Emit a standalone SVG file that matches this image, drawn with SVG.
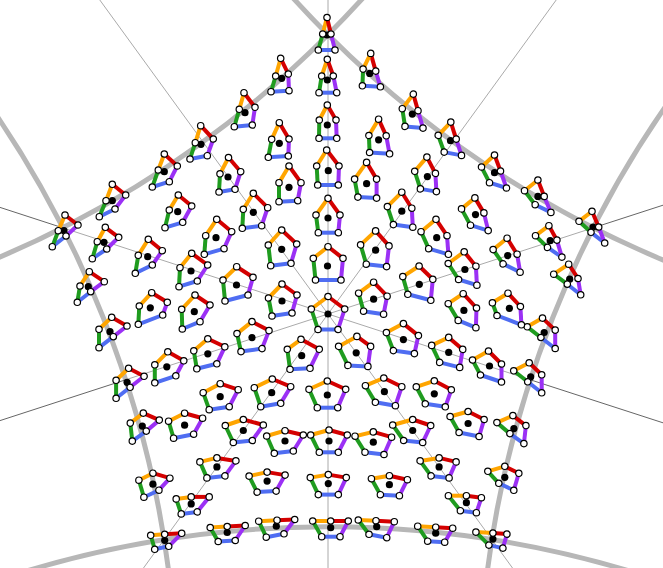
<svg xmlns="http://www.w3.org/2000/svg" width="663" height="568" viewBox="0 0 663 568">
<style>
path{fill:none;stroke-width:4}
.o{stroke:#ffa500}.r{stroke:#d40000}.p{stroke:#9b30f5}.b{stroke:#4f6df2}.g{stroke:#1f9c1f}
.v{fill:#fff;stroke:#000;stroke-width:1.2;r:3.2px}
.k{fill:#000;r:3.6px}
.thick{fill:none;stroke:#b7b7b7;stroke-width:5}
.thin{stroke:#aaa;stroke-width:1;fill:none}
.dark{stroke:#666;stroke-width:1;fill:none}
</style>
<rect width="663" height="568" fill="#fff"/>
<g id="guides">
<circle class="thick" cx="-413.5" cy="-706.2" r="1048.2"/>
<circle class="thick" cx="1069.5" cy="-706.2" r="1048.2"/>
<circle class="thick" cx="1527.3" cy="703.6" r="1048.2"/>
<circle class="thick" cx="-871.3" cy="703.6" r="1048.2"/>
<circle class="thick" cx="328" cy="1575" r="1048.2"/>
<path class="thin" d="M328 0V568M328 314L99.8 0M328 314L556.2 0M328 314L143.5 568M328 314L512.5 568M62.7 227.8L328 314L593.3 227.8M125.6 379.8L328 314L530.4 379.8"/>
<path class="dark" d="M0 207.4L62.7 227.8M663 205.2L593.3 227.8M0 420.6L125.6 379.8M663 422.8L530.4 379.8"/>
</g>
<g id="c0" transform="translate(328 314)"><path class="o" d="M0 -17.5L-16.7 -5"/><path class="r" d="M0 -17.5L16.7 -5"/><path class="p" d="M16.7 -5L10 15.5"/><path class="b" d="M10 15.5L-10 15.5"/><path class="g" d="M-10 15.5L-16.7 -5"/><circle class="k"/><circle class="v" cx="0" cy="-17.5"/><circle class="v" cx="-16.7" cy="-5"/><circle class="v" cx="16.7" cy="-5"/><circle class="v" cx="-10" cy="15.5"/><circle class="v" cx="10" cy="15.5"/></g>
<g id="s0u1" transform="translate(327.5 266)"><path class="o" d="M0.5 -19.3L-14.2 -7.7"/><path class="r" d="M0.5 -19.3L15.5 -7.7"/><path class="p" d="M15.5 -7.7L13.5 14"/><path class="b" d="M13.5 14L-12 14"/><path class="g" d="M-12 14L-14.2 -7.7"/><circle class="k"/><circle class="v" cx="0.5" cy="-19.3"/><circle class="v" cx="-14.2" cy="-7.7"/><circle class="v" cx="15.5" cy="-7.7"/><circle class="v" cx="-12" cy="14"/><circle class="v" cx="13.5" cy="14"/></g>
<g id="s0u2" transform="translate(328 218)"><path class="o" d="M0 -19.7L-12 -3"/><path class="r" d="M0 -19.7L12 -3"/><path class="p" d="M12 -3L10.3 14.7"/><path class="b" d="M10.3 14.7L-9.7 14.7"/><path class="g" d="M-9.7 14.7L-12 -3"/><circle class="k"/><circle class="v" cx="0" cy="-19.7"/><circle class="v" cx="-12" cy="-3"/><circle class="v" cx="12" cy="-3"/><circle class="v" cx="-9.7" cy="14.7"/><circle class="v" cx="10.3" cy="14.7"/></g>
<g id="s0u3" transform="translate(328.3 170.7)"><path class="o" d="M-1.6 -20.7L-11.6 -4.7"/><path class="r" d="M-1.6 -20.7L10.7 -4.7"/><path class="p" d="M10.7 -4.7L10 14.3"/><path class="b" d="M10 14.3L-10.6 14.3"/><path class="g" d="M-10.6 14.3L-11.6 -4.7"/><circle class="k"/><circle class="v" cx="-1.6" cy="-20.7"/><circle class="v" cx="-11.6" cy="-4.7"/><circle class="v" cx="10.7" cy="-4.7"/><circle class="v" cx="-10.6" cy="14.3"/><circle class="v" cx="10" cy="14.3"/></g>
<g id="s0u4" transform="translate(327.3 125)"><path class="o" d="M0 -20L-8 -5"/><path class="r" d="M0 -20L8.7 -5"/><path class="p" d="M8.7 -5L9.4 13.3"/><path class="b" d="M9.4 13.3L-8.3 13.3"/><path class="g" d="M-8.3 13.3L-8 -5"/><circle class="k"/><circle class="v" cx="0" cy="-20"/><circle class="v" cx="-8" cy="-5"/><circle class="v" cx="8.7" cy="-5"/><circle class="v" cx="-8.3" cy="13.3"/><circle class="v" cx="9.4" cy="13.3"/></g>
<g id="s0u5" transform="translate(327.3 80)"><path class="o" d="M0 -20.7L-5.6 -4"/><path class="r" d="M0 -20.7L6 -4"/><path class="p" d="M6 -4L9.4 12.7"/><path class="b" d="M9.4 12.7L-8.3 12.7"/><path class="g" d="M-8.3 12.7L-5.6 -4"/><circle class="k"/><circle class="v" cx="0" cy="-20.7"/><circle class="v" cx="-5.6" cy="-4"/><circle class="v" cx="6" cy="-4"/><circle class="v" cx="-8.3" cy="12.7"/><circle class="v" cx="9.4" cy="12.7"/></g>
<g id="s0u6" transform="translate(327 35)"><path class="o" d="M0 -17.5L-4.3 -1"/><path class="r" d="M0 -17.5L4 -1"/><path class="p" d="M4 -1L8 15"/><path class="b" d="M8 15L-8.7 15"/><path class="g" d="M-8.7 15L-4.3 -1"/><circle class="k"/><circle class="v" cx="0" cy="-17.5"/><circle class="v" cx="-4.3" cy="-1"/><circle class="v" cx="4" cy="-1"/><circle class="v" cx="-8.7" cy="15"/><circle class="v" cx="8" cy="15"/></g>
<g id="s0e1" transform="translate(281.7 78.3)"><path class="o" d="M-1 -20L-6 -2.3"/><path class="r" d="M-1 -20L6.6 -4.3"/><path class="p" d="M6.6 -4.3L7.3 12.4"/><path class="b" d="M7.3 12.4L-10.7 13.4"/><path class="g" d="M-10.7 13.4L-6 -2.3"/><circle class="k"/><circle class="v" cx="-1" cy="-20"/><circle class="v" cx="-6" cy="-2.3"/><circle class="v" cx="6.6" cy="-4.3"/><circle class="v" cx="-10.7" cy="13.4"/><circle class="v" cx="7.3" cy="12.4"/></g>
<g id="s0e2" transform="translate(245 112.7)"><path class="o" d="M-1 -20L-5.7 -3.4"/><path class="r" d="M-1 -20L10 -5.4"/><path class="p" d="M10 -5.4L7.3 12.3"/><path class="b" d="M7.3 12.3L-10.7 14"/><path class="g" d="M-10.7 14L-5.7 -3.4"/><circle class="k"/><circle class="v" cx="-1" cy="-20"/><circle class="v" cx="-5.7" cy="-3.4"/><circle class="v" cx="10" cy="-5.4"/><circle class="v" cx="-10.7" cy="14"/><circle class="v" cx="7.3" cy="12.3"/></g>
<g id="s0e3" transform="translate(201 144.3)"><path class="o" d="M-0.3 -18.6L-5.7 -1.6"/><path class="r" d="M-0.3 -18.6L12.3 -5.3"/><path class="p" d="M12.3 -5.3L6.3 11.4"/><path class="b" d="M6.3 11.4L-11 14.7"/><path class="g" d="M-11 14.7L-5.7 -1.6"/><circle class="k"/><circle class="v" cx="-0.3" cy="-18.6"/><circle class="v" cx="-5.7" cy="-1.6"/><circle class="v" cx="12.3" cy="-5.3"/><circle class="v" cx="-11" cy="14.7"/><circle class="v" cx="6.3" cy="11.4"/></g>
<g id="s0e4" transform="translate(164.3 171.7)"><path class="o" d="M0 -17.7L-6 -1.7"/><path class="r" d="M0 -17.7L13 -5.7"/><path class="p" d="M13 -5.7L5 10"/><path class="b" d="M5 10L-12 15.3"/><path class="g" d="M-12 15.3L-6 -1.7"/><circle class="k"/><circle class="v" cx="0" cy="-17.7"/><circle class="v" cx="-6" cy="-1.7"/><circle class="v" cx="13" cy="-5.7"/><circle class="v" cx="-12" cy="15.3"/><circle class="v" cx="5" cy="10"/></g>
<g id="s0e5" transform="translate(112.3 200.7)"><path class="o" d="M0 -16.4L-6.3 0"/><path class="r" d="M0 -16.4L13.4 -5.7"/><path class="p" d="M13.4 -5.7L2.7 8.3"/><path class="b" d="M2.7 8.3L-13 16"/><path class="g" d="M-13 16L-6.3 0"/><circle class="k"/><circle class="v" cx="0" cy="-16.4"/><circle class="v" cx="-6.3" cy="0"/><circle class="v" cx="13.4" cy="-5.7"/><circle class="v" cx="-13" cy="16"/><circle class="v" cx="2.7" cy="8.3"/></g>
<g id="s0i1" transform="translate(279.3 143.3)"><path class="o" d="M0 -20.6L-7.6 -4"/><path class="r" d="M0 -20.6L9.7 -4.3"/><path class="p" d="M9.7 -4.3L9 12.7"/><path class="b" d="M9 12.7L-11 14"/><path class="g" d="M-11 14L-7.6 -4"/><circle class="k"/><circle class="v" cx="0" cy="-20.6"/><circle class="v" cx="-7.6" cy="-4"/><circle class="v" cx="9.7" cy="-4.3"/><circle class="v" cx="-11" cy="14"/><circle class="v" cx="9" cy="12.7"/></g>
<g id="s0i2" transform="translate(228 177)"><path class="o" d="M0.5 -19.5L-8 -3.2"/><path class="r" d="M0.5 -19.5L12.7 -5.3"/><path class="p" d="M12.7 -5.3L7 12.3"/><path class="b" d="M7 12.3L-9 15"/><path class="g" d="M-9 15L-8 -3.2"/><circle class="k"/><circle class="v" cx="0.5" cy="-19.5"/><circle class="v" cx="-8" cy="-3.2"/><circle class="v" cx="12.7" cy="-5.3"/><circle class="v" cx="-9" cy="15"/><circle class="v" cx="7" cy="12.3"/></g>
<g id="s0i3" transform="translate(289 187.3)"><path class="o" d="M0 -21.3L-10 -4.6"/><path class="r" d="M0 -21.3L12 -4.6"/><path class="p" d="M12 -4.6L8.7 13.4"/><path class="b" d="M8.7 13.4L-10 14.4"/><path class="g" d="M-10 14.4L-10 -4.6"/><circle class="k"/><circle class="v" cx="0" cy="-21.3"/><circle class="v" cx="-10" cy="-4.6"/><circle class="v" cx="12" cy="-4.6"/><circle class="v" cx="-10" cy="14.4"/><circle class="v" cx="8.7" cy="13.4"/></g>
<g id="s0i4" transform="translate(253.3 212.3)"><path class="o" d="M0 -19L-10 -3"/><path class="r" d="M0 -19L14.4 -4.6"/><path class="p" d="M14.4 -4.6L8.4 13.4"/><path class="b" d="M8.4 13.4L-11 16"/><path class="g" d="M-11 16L-10 -3"/><circle class="k"/><circle class="v" cx="0" cy="-19"/><circle class="v" cx="-10" cy="-3"/><circle class="v" cx="14.4" cy="-4.6"/><circle class="v" cx="-11" cy="16"/><circle class="v" cx="8.4" cy="13.4"/></g>
<g id="s0i5" transform="translate(177.7 211.7)"><path class="o" d="M0.6 -16.7L-8.4 -1.7"/><path class="r" d="M0.6 -16.7L14 -5.7"/><path class="p" d="M14 -5.7L5 10.6"/><path class="b" d="M5 10.6L-12.7 16"/><path class="g" d="M-12.7 16L-8.4 -1.7"/><circle class="k"/><circle class="v" cx="0.6" cy="-16.7"/><circle class="v" cx="-8.4" cy="-1.7"/><circle class="v" cx="14" cy="-5.7"/><circle class="v" cx="-12.7" cy="16"/><circle class="v" cx="5" cy="10.6"/></g>
<g id="s0i6" transform="translate(216 237.7)"><path class="o" d="M0.7 -18.4L-10.3 -2"/><path class="r" d="M0.7 -18.4L15.7 -6"/><path class="p" d="M15.7 -6L8 11"/><path class="b" d="M8 11L-11.7 16.6"/><path class="g" d="M-11.7 16.6L-10.3 -2"/><circle class="k"/><circle class="v" cx="0.7" cy="-18.4"/><circle class="v" cx="-10.3" cy="-2"/><circle class="v" cx="15.7" cy="-6"/><circle class="v" cx="-11.7" cy="16.6"/><circle class="v" cx="8" cy="11"/></g>
<g id="s0i7" transform="translate(281.7 249.3)"><path class="o" d="M0 -19.3L-13.4 -4.3"/><path class="r" d="M0 -19.3L15 -5.3"/><path class="p" d="M15 -5.3L9.3 14"/><path class="b" d="M9.3 14L-11 16.4"/><path class="g" d="M-11 16.4L-13.4 -4.3"/><circle class="k"/><circle class="v" cx="0" cy="-19.3"/><circle class="v" cx="-13.4" cy="-4.3"/><circle class="v" cx="15" cy="-5.3"/><circle class="v" cx="-11" cy="16.4"/><circle class="v" cx="9.3" cy="14"/></g>
<g id="s1u1" transform="translate(282 301)"><path class="o" d="M0 -17L-13.5 -3"/><path class="r" d="M0 -17L15 -6"/><path class="p" d="M15 -6L10 12"/><path class="b" d="M10 12L-10 15"/><path class="g" d="M-10 15L-13.5 -3"/><circle class="k"/><circle class="v" cx="0" cy="-17"/><circle class="v" cx="-13.5" cy="-3"/><circle class="v" cx="15" cy="-6"/><circle class="v" cx="-10" cy="15"/><circle class="v" cx="10" cy="12"/></g>
<g id="s1u2" transform="translate(236.5 285)"><path class="o" d="M0.2 -18.3L-13.5 -5"/><path class="r" d="M0.2 -18.3L16.5 -7.7"/><path class="p" d="M16.5 -7.7L11.5 10"/><path class="b" d="M11.5 10L-11.5 16"/><path class="g" d="M-11.5 16L-13.5 -5"/><circle class="k"/><circle class="v" cx="0.2" cy="-18.3"/><circle class="v" cx="-13.5" cy="-5"/><circle class="v" cx="16.5" cy="-7.7"/><circle class="v" cx="-11.5" cy="16"/><circle class="v" cx="11.5" cy="10"/></g>
<g id="s1u3" transform="translate(191 271)"><path class="o" d="M0.7 -17.7L-11 -3.3"/><path class="r" d="M0.7 -17.7L16.7 -6"/><path class="p" d="M16.7 -6L6.3 10"/><path class="b" d="M6.3 10L-12 15.7"/><path class="g" d="M-12 15.7L-11 -3.3"/><circle class="k"/><circle class="v" cx="0.7" cy="-17.7"/><circle class="v" cx="-11" cy="-3.3"/><circle class="v" cx="16.7" cy="-6"/><circle class="v" cx="-12" cy="15.7"/><circle class="v" cx="6.3" cy="10"/></g>
<g id="s1u4" transform="translate(147.7 256.7)"><path class="o" d="M0.6 -17.4L-9.4 -1.4"/><path class="r" d="M0.6 -17.4L14.6 -6"/><path class="p" d="M14.6 -6L4.6 8.3"/><path class="b" d="M4.6 8.3L-12.4 16.6"/><path class="g" d="M-12.4 16.6L-9.4 -1.4"/><circle class="k"/><circle class="v" cx="0.6" cy="-17.4"/><circle class="v" cx="-9.4" cy="-1.4"/><circle class="v" cx="14.6" cy="-6"/><circle class="v" cx="-12.4" cy="16.6"/><circle class="v" cx="4.6" cy="8.3"/></g>
<g id="s1u5" transform="translate(104 242.3)"><path class="o" d="M1.3 -15L-6.7 -0.6"/><path class="r" d="M1.3 -15L14.7 -5"/><path class="p" d="M14.7 -5L2.7 6.7"/><path class="b" d="M2.7 6.7L-11.7 16.4"/><path class="g" d="M-11.7 16.4L-6.7 -0.6"/><circle class="k"/><circle class="v" cx="1.3" cy="-15"/><circle class="v" cx="-6.7" cy="-0.6"/><circle class="v" cx="14.7" cy="-5"/><circle class="v" cx="-11.7" cy="16.4"/><circle class="v" cx="2.7" cy="6.7"/></g>
<g id="s1u6" transform="translate(64 230.7)"><path class="o" d="M1 -15.7L-5.7 0"/><path class="r" d="M1 -15.7L14 -5.7"/><path class="p" d="M14 -5.7L2 5.3"/><path class="b" d="M2 5.3L-11.7 16"/><path class="g" d="M-11.7 16L-5.7 0"/><circle class="k"/><circle class="v" cx="1" cy="-15.7"/><circle class="v" cx="-5.7" cy="0"/><circle class="v" cx="14" cy="-5.7"/><circle class="v" cx="-11.7" cy="16"/><circle class="v" cx="2" cy="5.3"/></g>
<g id="s1e1" transform="translate(88.3 286.7)"><path class="o" d="M1 -15L-8.3 -0.7"/><path class="r" d="M1 -15L16 -5"/><path class="p" d="M16 -5L2.4 5"/><path class="b" d="M2.4 5L-11 15.6"/><path class="g" d="M-11 15.6L-8.3 -0.7"/><circle class="k"/><circle class="v" cx="1" cy="-15"/><circle class="v" cx="-8.3" cy="-0.7"/><circle class="v" cx="16" cy="-5"/><circle class="v" cx="-11" cy="15.6"/><circle class="v" cx="2.4" cy="5"/></g>
<g id="s1e2" transform="translate(110 331.7)"><path class="o" d="M1.7 -14.4L-11 -2.4"/><path class="r" d="M1.7 -14.4L17 -5.7"/><path class="p" d="M17 -5.7L3.3 5"/><path class="b" d="M3.3 5L-11 16"/><path class="g" d="M-11 16L-11 -2.4"/><circle class="k"/><circle class="v" cx="1.7" cy="-14.4"/><circle class="v" cx="-11" cy="-2.4"/><circle class="v" cx="17" cy="-5.7"/><circle class="v" cx="-11" cy="16"/><circle class="v" cx="3.3" cy="5"/></g>
<g id="s1e3" transform="translate(127.1 382.3)"><path class="o" d="M1.5 -14L-11 -2"/><path class="r" d="M1.5 -14L17 -6"/><path class="p" d="M17 -6L3 5"/><path class="b" d="M3 5L-11 16"/><path class="g" d="M-11 16L-11 -2"/><circle class="k"/><circle class="v" cx="1.5" cy="-14"/><circle class="v" cx="-11" cy="-2"/><circle class="v" cx="17" cy="-6"/><circle class="v" cx="-11" cy="16"/><circle class="v" cx="3" cy="5"/></g>
<g id="s1e4" transform="translate(142.3 426.1)"><path class="o" d="M1 -13L-12 -3"/><path class="r" d="M1 -13L17 -6"/><path class="p" d="M17 -6L4 5"/><path class="b" d="M4 5L-10 15"/><path class="g" d="M-10 15L-12 -3"/><circle class="k"/><circle class="v" cx="1" cy="-13"/><circle class="v" cx="-12" cy="-3"/><circle class="v" cx="17" cy="-6"/><circle class="v" cx="-10" cy="15"/><circle class="v" cx="4" cy="5"/></g>
<g id="s1e5" transform="translate(152.9 484.2)"><path class="o" d="M0 -11L-14 -4"/><path class="r" d="M0 -11L17 -6"/><path class="p" d="M17 -6L6 6"/><path class="b" d="M6 6L-9 13"/><path class="g" d="M-9 13L-14 -4"/><circle class="k"/><circle class="v" cx="0" cy="-11"/><circle class="v" cx="-14" cy="-4"/><circle class="v" cx="17" cy="-6"/><circle class="v" cx="-9" cy="13"/><circle class="v" cx="6" cy="6"/></g>
<g id="s1i1" transform="translate(150.3 307.8)"><path class="o" d="M1.4 -15.1L-11 -1.8"/><path class="r" d="M1.4 -15.1L17 -5.5"/><path class="p" d="M17 -5.5L12.4 7.2"/><path class="b" d="M12.4 7.2L-12 16.5"/><path class="g" d="M-12 16.5L-11 -1.8"/><circle class="k"/><circle class="v" cx="1.4" cy="-15.1"/><circle class="v" cx="-11" cy="-1.8"/><circle class="v" cx="17" cy="-5.5"/><circle class="v" cx="-12" cy="16.5"/><circle class="v" cx="12.4" cy="7.2"/></g>
<g id="s1i2" transform="translate(166.8 366.8)"><path class="o" d="M1 -15L-12 -2"/><path class="r" d="M1 -15L17 -6"/><path class="p" d="M17 -6L9 9"/><path class="b" d="M9 9L-12 16"/><path class="g" d="M-12 16L-12 -2"/><circle class="k"/><circle class="v" cx="1" cy="-15"/><circle class="v" cx="-12" cy="-2"/><circle class="v" cx="17" cy="-6"/><circle class="v" cx="-12" cy="16"/><circle class="v" cx="9" cy="9"/></g>
<g id="s1i3" transform="translate(194.3 311.7)"><path class="o" d="M0.7 -16.7L-12.6 -2.4"/><path class="r" d="M0.7 -16.7L15.7 -6.7"/><path class="p" d="M15.7 -6.7L5.7 10"/><path class="b" d="M5.7 10L-12 17.3"/><path class="g" d="M-12 17.3L-12.6 -2.4"/><circle class="k"/><circle class="v" cx="0.7" cy="-16.7"/><circle class="v" cx="-12.6" cy="-2.4"/><circle class="v" cx="15.7" cy="-6.7"/><circle class="v" cx="-12" cy="17.3"/><circle class="v" cx="5.7" cy="10"/></g>
<g id="s1i4" transform="translate(207.8 353.8)"><path class="o" d="M0 -15L-14 -3"/><path class="r" d="M0 -15L17 -7"/><path class="p" d="M17 -7L9 10"/><path class="b" d="M9 10L-11 15"/><path class="g" d="M-11 15L-14 -3"/><circle class="k"/><circle class="v" cx="0" cy="-15"/><circle class="v" cx="-14" cy="-3"/><circle class="v" cx="17" cy="-7"/><circle class="v" cx="-11" cy="15"/><circle class="v" cx="9" cy="10"/></g>
<g id="s1i5" transform="translate(184.6 425.2)"><path class="o" d="M0 -12L-16 -4"/><path class="r" d="M0 -12L18 -7"/><path class="p" d="M18 -7L9 9"/><path class="b" d="M9 9L-11 13"/><path class="g" d="M-11 13L-16 -4"/><circle class="k"/><circle class="v" cx="0" cy="-12"/><circle class="v" cx="-16" cy="-4"/><circle class="v" cx="18" cy="-7"/><circle class="v" cx="-11" cy="13"/><circle class="v" cx="9" cy="9"/></g>
<g id="s1i6" transform="translate(220.2 396.7)"><path class="o" d="M0 -13L-17 -4"/><path class="r" d="M0 -13L18 -7"/><path class="p" d="M18 -7L9 10"/><path class="b" d="M9 10L-11 13"/><path class="g" d="M-11 13L-17 -4"/><circle class="k"/><circle class="v" cx="0" cy="-13"/><circle class="v" cx="-17" cy="-4"/><circle class="v" cx="18" cy="-7"/><circle class="v" cx="-11" cy="13"/><circle class="v" cx="9" cy="10"/></g>
<g id="s1i7" transform="translate(252 337.6)"><path class="o" d="M0 -16L-15 -4"/><path class="r" d="M0 -16L17 -7"/><path class="p" d="M17 -7L10 11"/><path class="b" d="M10 11L-11 14"/><path class="g" d="M-11 14L-15 -4"/><circle class="k"/><circle class="v" cx="0" cy="-16"/><circle class="v" cx="-15" cy="-4"/><circle class="v" cx="17" cy="-7"/><circle class="v" cx="-11" cy="14"/><circle class="v" cx="10" cy="11"/></g>
<g id="s2u1" transform="translate(301.7 355.7)"><path class="o" d="M-0.7 -16.4L-14.4 -6.4"/><path class="r" d="M-0.7 -16.4L17.6 -6.4"/><path class="p" d="M17.6 -6.4L8.3 12.6"/><path class="b" d="M8.3 12.6L-11.7 13.6"/><path class="g" d="M-11.7 13.6L-14.4 -6.4"/><circle class="k"/><circle class="v" cx="-0.7" cy="-16.4"/><circle class="v" cx="-14.4" cy="-6.4"/><circle class="v" cx="17.6" cy="-6.4"/><circle class="v" cx="-11.7" cy="13.6"/><circle class="v" cx="8.3" cy="12.6"/></g>
<g id="s2u2" transform="translate(271.7 392.7)"><path class="o" d="M0.6 -13.7L-17.4 -5"/><path class="r" d="M0.6 -13.7L19 -6"/><path class="p" d="M19 -6L9 10.6"/><path class="b" d="M9 10.6L-11 14"/><path class="g" d="M-11 14L-17.4 -5"/><circle class="k"/><circle class="v" cx="0.6" cy="-13.7"/><circle class="v" cx="-17.4" cy="-5"/><circle class="v" cx="19" cy="-6"/><circle class="v" cx="-11" cy="14"/><circle class="v" cx="9" cy="10.6"/></g>
<g id="s2u3" transform="translate(243.3 430.5)"><path class="o" d="M0 -11L-18 -5"/><path class="r" d="M0 -11L20 -5.5"/><path class="p" d="M20 -5.5L9 10"/><path class="b" d="M9 10L-10 12"/><path class="g" d="M-10 12L-18 -5"/><circle class="k"/><circle class="v" cx="0" cy="-11"/><circle class="v" cx="-18" cy="-5"/><circle class="v" cx="20" cy="-5.5"/><circle class="v" cx="-10" cy="12"/><circle class="v" cx="9" cy="10"/></g>
<g id="s2u4" transform="translate(216.9 466.9)"><path class="o" d="M0 -9L-17 -5"/><path class="r" d="M0 -9L19 -6"/><path class="p" d="M19 -6L8 9"/><path class="b" d="M8 9L-10 11"/><path class="g" d="M-10 11L-17 -5"/><circle class="k"/><circle class="v" cx="0" cy="-9"/><circle class="v" cx="-17" cy="-5"/><circle class="v" cx="19" cy="-6"/><circle class="v" cx="-10" cy="11"/><circle class="v" cx="8" cy="9"/></g>
<g id="s2u5" transform="translate(191.2 503.9)"><path class="o" d="M0 -7L-15 -5"/><path class="r" d="M0 -7L18 -7"/><path class="p" d="M18 -7L6 8"/><path class="b" d="M6 8L-10 10"/><path class="g" d="M-10 10L-15 -5"/><circle class="k"/><circle class="v" cx="0" cy="-7"/><circle class="v" cx="-15" cy="-5"/><circle class="v" cx="18" cy="-7"/><circle class="v" cx="-10" cy="10"/><circle class="v" cx="6" cy="8"/></g>
<g id="s2u6" transform="translate(164.7 540.3)"><path class="o" d="M0 -6L-14 -5"/><path class="r" d="M0 -6L17 -7"/><path class="p" d="M17 -7L4 6"/><path class="b" d="M4 6L-10 9"/><path class="g" d="M-10 9L-14 -5"/><circle class="k"/><circle class="v" cx="0" cy="-6"/><circle class="v" cx="-14" cy="-5"/><circle class="v" cx="17" cy="-7"/><circle class="v" cx="-10" cy="9"/><circle class="v" cx="4" cy="6"/></g>
<g id="s2e1" transform="translate(227.2 532.5)"><path class="o" d="M0 -6L-17 -5"/><path class="r" d="M0 -6L18 -7"/><path class="p" d="M18 -7L8 8"/><path class="b" d="M8 8L-9 9"/><path class="g" d="M-9 9L-17 -5"/><circle class="k"/><circle class="v" cx="0" cy="-6"/><circle class="v" cx="-17" cy="-5"/><circle class="v" cx="18" cy="-7"/><circle class="v" cx="-9" cy="9"/><circle class="v" cx="8" cy="8"/></g>
<g id="s2e2" transform="translate(276.3 526.2) scale(-1 1)"><path class="r" d="M-0.7 -6L-18.4 -6.7"/><path class="o" d="M-0.7 -6L17.6 -5"/><path class="g" d="M17.6 -5L10 11"/><path class="b" d="M10 11L-7.7 7.6"/><path class="p" d="M-7.7 7.6L-18.4 -6.7"/><circle class="k"/><circle class="v" cx="-0.7" cy="-6"/><circle class="v" cx="-18.4" cy="-6.7"/><circle class="v" cx="17.6" cy="-5"/><circle class="v" cx="-7.7" cy="7.6"/><circle class="v" cx="10" cy="11"/></g>
<g id="s2e3" transform="translate(330.7 527.7)"><path class="o" d="M0 -6.7L-18 -6.7"/><path class="r" d="M0 -6.7L17.6 -6.7"/><path class="p" d="M17.6 -6.7L9.3 9"/><path class="b" d="M9.3 9L-9 9"/><path class="g" d="M-9 9L-18 -6.7"/><circle class="k"/><circle class="v" cx="0" cy="-6.7"/><circle class="v" cx="-18" cy="-6.7"/><circle class="v" cx="17.6" cy="-6.7"/><circle class="v" cx="-9" cy="9"/><circle class="v" cx="9.3" cy="9"/></g>
<g id="s2e4" transform="translate(376.7 526.7)"><path class="o" d="M-0.7 -6L-18.4 -6.7"/><path class="r" d="M-0.7 -6L17.6 -5"/><path class="p" d="M17.6 -5L10 11"/><path class="b" d="M10 11L-7.7 7.6"/><path class="g" d="M-7.7 7.6L-18.4 -6.7"/><circle class="k"/><circle class="v" cx="-0.7" cy="-6"/><circle class="v" cx="-18.4" cy="-6.7"/><circle class="v" cx="17.6" cy="-5"/><circle class="v" cx="-7.7" cy="7.6"/><circle class="v" cx="10" cy="11"/></g>
<g id="s2e5" transform="translate(435.7 533.2) scale(-1 1)"><path class="r" d="M0 -6L-17 -5"/><path class="o" d="M0 -6L18 -7"/><path class="g" d="M18 -7L8 8"/><path class="b" d="M8 8L-9 9"/><path class="p" d="M-9 9L-17 -5"/><circle class="k"/><circle class="v" cx="0" cy="-6"/><circle class="v" cx="-17" cy="-5"/><circle class="v" cx="18" cy="-7"/><circle class="v" cx="-9" cy="9"/><circle class="v" cx="8" cy="8"/></g>
<g id="s2i1" transform="translate(267.1 481.1)"><path class="o" d="M0 -9L-18 -5"/><path class="r" d="M0 -9L18 -6"/><path class="p" d="M18 -6L9 10"/><path class="b" d="M9 10L-10 11"/><path class="g" d="M-10 11L-18 -5"/><circle class="k"/><circle class="v" cx="0" cy="-9"/><circle class="v" cx="-18" cy="-5"/><circle class="v" cx="18" cy="-6"/><circle class="v" cx="-10" cy="11"/><circle class="v" cx="9" cy="10"/></g>
<g id="s2i2" transform="translate(328.3 483.6)"><path class="o" d="M0 -9L-18 -6"/><path class="r" d="M0 -9L18 -6"/><path class="p" d="M18 -6L10 11"/><path class="b" d="M10 11L-10 11"/><path class="g" d="M-10 11L-18 -6"/><circle class="k"/><circle class="v" cx="0" cy="-9"/><circle class="v" cx="-18" cy="-6"/><circle class="v" cx="18" cy="-6"/><circle class="v" cx="-10" cy="11"/><circle class="v" cx="10" cy="11"/></g>
<g id="s2i3" transform="translate(285 441)"><path class="o" d="M0 -10.3L-18.3 -5"/><path class="r" d="M0 -10.3L18.3 -6"/><path class="p" d="M18.3 -6L8.3 10"/><path class="b" d="M8.3 10L-10.7 12.3"/><path class="g" d="M-10.7 12.3L-18.3 -5"/><circle class="k"/><circle class="v" cx="0" cy="-10.3"/><circle class="v" cx="-18.3" cy="-5"/><circle class="v" cx="18.3" cy="-6"/><circle class="v" cx="-10.7" cy="12.3"/><circle class="v" cx="8.3" cy="10"/></g>
<g id="s2i4" transform="translate(329 441)"><path class="o" d="M0 -11L-18.3 -6"/><path class="r" d="M0 -11L18.3 -6"/><path class="p" d="M18.3 -6L9.3 11.3"/><path class="b" d="M9.3 11.3L-9.7 11.3"/><path class="g" d="M-9.7 11.3L-18.3 -6"/><circle class="k"/><circle class="v" cx="0" cy="-11"/><circle class="v" cx="-18.3" cy="-6"/><circle class="v" cx="18.3" cy="-6"/><circle class="v" cx="-9.7" cy="11.3"/><circle class="v" cx="9.3" cy="11.3"/></g>
<g id="s2i5" transform="translate(389.4 484.7) scale(-1 1)"><path class="r" d="M0 -9L-18 -5"/><path class="o" d="M0 -9L18 -6"/><path class="g" d="M18 -6L9 10"/><path class="b" d="M9 10L-10 11"/><path class="p" d="M-10 11L-18 -5"/><circle class="k"/><circle class="v" cx="0" cy="-9"/><circle class="v" cx="-18" cy="-5"/><circle class="v" cx="18" cy="-6"/><circle class="v" cx="-10" cy="11"/><circle class="v" cx="9" cy="10"/></g>
<g id="s2i6" transform="translate(373.3 442.2) scale(-1 1)"><path class="r" d="M0 -10.3L-18.3 -5"/><path class="o" d="M0 -10.3L18.3 -6"/><path class="g" d="M18.3 -6L8.3 10"/><path class="b" d="M8.3 10L-10.7 12.3"/><path class="p" d="M-10.7 12.3L-18.3 -5"/><circle class="k"/><circle class="v" cx="0" cy="-10.3"/><circle class="v" cx="-18.3" cy="-5"/><circle class="v" cx="18.3" cy="-6"/><circle class="v" cx="-10.7" cy="12.3"/><circle class="v" cx="8.3" cy="10"/></g>
<g id="s2i7" transform="translate(327.3 395)"><path class="o" d="M0 -14L-18.3 -5.7"/><path class="r" d="M0 -14L18.4 -5.7"/><path class="p" d="M18.4 -5.7L10.4 12.7"/><path class="b" d="M10.4 12.7L-10 12.7"/><path class="g" d="M-10 12.7L-18.3 -5.7"/><circle class="k"/><circle class="v" cx="0" cy="-14"/><circle class="v" cx="-18.3" cy="-5.7"/><circle class="v" cx="18.4" cy="-5.7"/><circle class="v" cx="-10" cy="12.7"/><circle class="v" cx="10.4" cy="12.7"/></g>
<g id="s3u1" transform="translate(356.2 352.8) scale(-1 1)"><path class="r" d="M-0.7 -16.4L-14.4 -6.4"/><path class="o" d="M-0.7 -16.4L17.6 -6.4"/><path class="g" d="M17.6 -6.4L8.3 12.6"/><path class="b" d="M8.3 12.6L-11.7 13.6"/><path class="p" d="M-11.7 13.6L-14.4 -6.4"/><circle class="k"/><circle class="v" cx="-0.7" cy="-16.4"/><circle class="v" cx="-14.4" cy="-6.4"/><circle class="v" cx="17.6" cy="-6.4"/><circle class="v" cx="-11.7" cy="13.6"/><circle class="v" cx="8.3" cy="12.6"/></g>
<g id="s3u2" transform="translate(384.4 391.7) scale(-1 1)"><path class="r" d="M0.6 -13.7L-17.4 -5"/><path class="o" d="M0.6 -13.7L19 -6"/><path class="g" d="M19 -6L9 10.6"/><path class="b" d="M9 10.6L-11 14"/><path class="p" d="M-11 14L-17.4 -5"/><circle class="k"/><circle class="v" cx="0.6" cy="-13.7"/><circle class="v" cx="-17.4" cy="-5"/><circle class="v" cx="19" cy="-6"/><circle class="v" cx="-11" cy="14"/><circle class="v" cx="9" cy="10.6"/></g>
<g id="s3u3" transform="translate(412.7 430.5) scale(-1 1)"><path class="r" d="M0 -11L-18 -5"/><path class="o" d="M0 -11L20 -5.5"/><path class="g" d="M20 -5.5L9 10"/><path class="b" d="M9 10L-10 12"/><path class="p" d="M-10 12L-18 -5"/><circle class="k"/><circle class="v" cx="0" cy="-11"/><circle class="v" cx="-18" cy="-5"/><circle class="v" cx="20" cy="-5.5"/><circle class="v" cx="-10" cy="12"/><circle class="v" cx="9" cy="10"/></g>
<g id="s3u4" transform="translate(439.1 466.9) scale(-1 1)"><path class="r" d="M0 -9L-17 -5"/><path class="o" d="M0 -9L19 -6"/><path class="g" d="M19 -6L8 9"/><path class="b" d="M8 9L-10 11"/><path class="p" d="M-10 11L-17 -5"/><circle class="k"/><circle class="v" cx="0" cy="-9"/><circle class="v" cx="-17" cy="-5"/><circle class="v" cx="19" cy="-6"/><circle class="v" cx="-10" cy="11"/><circle class="v" cx="8" cy="9"/></g>
<g id="s3u5" transform="translate(466.4 502.7) scale(-1 1)"><path class="r" d="M0 -7L-15 -5"/><path class="o" d="M0 -7L18 -7"/><path class="g" d="M18 -7L6 8"/><path class="b" d="M6 8L-10 10"/><path class="p" d="M-10 10L-15 -5"/><circle class="k"/><circle class="v" cx="0" cy="-7"/><circle class="v" cx="-15" cy="-5"/><circle class="v" cx="18" cy="-7"/><circle class="v" cx="-10" cy="10"/><circle class="v" cx="6" cy="8"/></g>
<g id="s3u6" transform="translate(492.9 539.1) scale(-1 1)"><path class="r" d="M0 -6L-14 -5"/><path class="o" d="M0 -6L17 -7"/><path class="g" d="M17 -7L4 6"/><path class="b" d="M4 6L-10 9"/><path class="p" d="M-10 9L-14 -5"/><circle class="k"/><circle class="v" cx="0" cy="-6"/><circle class="v" cx="-14" cy="-5"/><circle class="v" cx="17" cy="-7"/><circle class="v" cx="-10" cy="9"/><circle class="v" cx="4" cy="6"/></g>
<g id="s3e1" transform="translate(504.8 477.3) scale(-1 1)"><path class="r" d="M0 -11L-14 -4"/><path class="o" d="M0 -11L17 -6"/><path class="g" d="M17 -6L6 6"/><path class="b" d="M6 6L-9 13"/><path class="p" d="M-9 13L-14 -4"/><circle class="k"/><circle class="v" cx="0" cy="-11"/><circle class="v" cx="-14" cy="-4"/><circle class="v" cx="17" cy="-6"/><circle class="v" cx="-9" cy="13"/><circle class="v" cx="6" cy="6"/></g>
<g id="s3e2" transform="translate(513.9 428.6) scale(-1 1)"><path class="r" d="M1 -13L-12 -3"/><path class="o" d="M1 -13L17 -6"/><path class="g" d="M17 -6L4 5"/><path class="b" d="M4 5L-10 15"/><path class="p" d="M-10 15L-12 -3"/><circle class="k"/><circle class="v" cx="1" cy="-13"/><circle class="v" cx="-12" cy="-3"/><circle class="v" cx="17" cy="-6"/><circle class="v" cx="-10" cy="15"/><circle class="v" cx="4" cy="5"/></g>
<g id="s3e3" transform="translate(530.7 376.8) scale(-1 1)"><path class="r" d="M1.5 -14L-11 -2"/><path class="o" d="M1.5 -14L17 -6"/><path class="g" d="M17 -6L3 5"/><path class="b" d="M3 5L-11 16"/><path class="p" d="M-11 16L-11 -2"/><circle class="k"/><circle class="v" cx="1.5" cy="-14"/><circle class="v" cx="-11" cy="-2"/><circle class="v" cx="17" cy="-6"/><circle class="v" cx="-11" cy="16"/><circle class="v" cx="3" cy="5"/></g>
<g id="s3e4" transform="translate(544.2 332.5) scale(-1 1)"><path class="r" d="M1.7 -14.4L-11 -2.4"/><path class="o" d="M1.7 -14.4L17 -5.7"/><path class="g" d="M17 -5.7L3.3 5"/><path class="b" d="M3.3 5L-11 16"/><path class="p" d="M-11 16L-11 -2.4"/><circle class="k"/><circle class="v" cx="1.7" cy="-14.4"/><circle class="v" cx="-11" cy="-2.4"/><circle class="v" cx="17" cy="-5.7"/><circle class="v" cx="-11" cy="16"/><circle class="v" cx="3.3" cy="5"/></g>
<g id="s3e5" transform="translate(569.7 279.2) scale(-1 1)"><path class="r" d="M1 -15L-8.3 -0.7"/><path class="o" d="M1 -15L16 -5"/><path class="g" d="M16 -5L2.4 5"/><path class="b" d="M2.4 5L-11 15.6"/><path class="p" d="M-11 15.6L-8.3 -0.7"/><circle class="k"/><circle class="v" cx="1" cy="-15"/><circle class="v" cx="-8.3" cy="-0.7"/><circle class="v" cx="16" cy="-5"/><circle class="v" cx="-11" cy="15.6"/><circle class="v" cx="2.4" cy="5"/></g>
<g id="s3i1" transform="translate(468.1 423.5) scale(-1 1)"><path class="r" d="M0 -12L-16 -4"/><path class="o" d="M0 -12L18 -7"/><path class="g" d="M18 -7L9 9"/><path class="b" d="M9 9L-11 13"/><path class="p" d="M-11 13L-16 -4"/><circle class="k"/><circle class="v" cx="0" cy="-12"/><circle class="v" cx="-16" cy="-4"/><circle class="v" cx="18" cy="-7"/><circle class="v" cx="-11" cy="13"/><circle class="v" cx="9" cy="9"/></g>
<g id="s3i2" transform="translate(489.5 366) scale(-1 1)"><path class="r" d="M1 -15L-12 -2"/><path class="o" d="M1 -15L17 -6"/><path class="g" d="M17 -6L9 9"/><path class="b" d="M9 9L-12 16"/><path class="p" d="M-12 16L-12 -2"/><circle class="k"/><circle class="v" cx="1" cy="-15"/><circle class="v" cx="-12" cy="-2"/><circle class="v" cx="17" cy="-6"/><circle class="v" cx="-12" cy="16"/><circle class="v" cx="9" cy="9"/></g>
<g id="s3i3" transform="translate(434.3 393.8) scale(-1 1)"><path class="r" d="M0 -13L-17 -4"/><path class="o" d="M0 -13L18 -7"/><path class="g" d="M18 -7L9 10"/><path class="b" d="M9 10L-11 13"/><path class="p" d="M-11 13L-17 -4"/><circle class="k"/><circle class="v" cx="0" cy="-13"/><circle class="v" cx="-17" cy="-4"/><circle class="v" cx="18" cy="-7"/><circle class="v" cx="-11" cy="13"/><circle class="v" cx="9" cy="10"/></g>
<g id="s3i4" transform="translate(448.7 352.4) scale(-1 1)"><path class="r" d="M0 -15L-14 -3"/><path class="o" d="M0 -15L17 -7"/><path class="g" d="M17 -7L9 10"/><path class="b" d="M9 10L-11 15"/><path class="p" d="M-11 15L-14 -3"/><circle class="k"/><circle class="v" cx="0" cy="-15"/><circle class="v" cx="-14" cy="-3"/><circle class="v" cx="17" cy="-7"/><circle class="v" cx="-11" cy="15"/><circle class="v" cx="9" cy="10"/></g>
<g id="s3i5" transform="translate(509.4 308.3) scale(-1 1)"><path class="r" d="M1.4 -15.1L-11 -1.8"/><path class="o" d="M1.4 -15.1L17 -5.5"/><path class="g" d="M17 -5.5L12.4 7.2"/><path class="b" d="M12.4 7.2L-12 16.5"/><path class="p" d="M-12 16.5L-11 -1.8"/><circle class="k"/><circle class="v" cx="1.4" cy="-15.1"/><circle class="v" cx="-11" cy="-1.8"/><circle class="v" cx="17" cy="-5.5"/><circle class="v" cx="-12" cy="16.5"/><circle class="v" cx="12.4" cy="7.2"/></g>
<g id="s3i6" transform="translate(463.9 310.4) scale(-1 1)"><path class="r" d="M0.7 -16.7L-12.6 -2.4"/><path class="o" d="M0.7 -16.7L15.7 -6.7"/><path class="g" d="M15.7 -6.7L5.7 10"/><path class="b" d="M5.7 10L-12 17.3"/><path class="p" d="M-12 17.3L-12.6 -2.4"/><circle class="k"/><circle class="v" cx="0.7" cy="-16.7"/><circle class="v" cx="-12.6" cy="-2.4"/><circle class="v" cx="15.7" cy="-6.7"/><circle class="v" cx="-12" cy="17.3"/><circle class="v" cx="5.7" cy="10"/></g>
<g id="s3i7" transform="translate(403.4 339.6) scale(-1 1)"><path class="r" d="M0 -16L-15 -4"/><path class="o" d="M0 -16L17 -7"/><path class="g" d="M17 -7L10 11"/><path class="b" d="M10 11L-11 14"/><path class="p" d="M-11 14L-15 -4"/><circle class="k"/><circle class="v" cx="0" cy="-16"/><circle class="v" cx="-15" cy="-4"/><circle class="v" cx="17" cy="-7"/><circle class="v" cx="-11" cy="14"/><circle class="v" cx="10" cy="11"/></g>
<g id="s4u1" transform="translate(373.6 299.2) scale(-1 1)"><path class="r" d="M0 -17L-13.5 -3"/><path class="o" d="M0 -17L15 -6"/><path class="g" d="M15 -6L10 12"/><path class="b" d="M10 12L-10 15"/><path class="p" d="M-10 15L-13.5 -3"/><circle class="k"/><circle class="v" cx="0" cy="-17"/><circle class="v" cx="-13.5" cy="-3"/><circle class="v" cx="15" cy="-6"/><circle class="v" cx="-10" cy="15"/><circle class="v" cx="10" cy="12"/></g>
<g id="s4u2" transform="translate(419.3 284.3) scale(-1 1)"><path class="r" d="M0.2 -18.3L-13.5 -5"/><path class="o" d="M0.2 -18.3L16.5 -7.7"/><path class="g" d="M16.5 -7.7L11.5 10"/><path class="b" d="M11.5 10L-11.5 16"/><path class="p" d="M-11.5 16L-13.5 -5"/><circle class="k"/><circle class="v" cx="0.2" cy="-18.3"/><circle class="v" cx="-13.5" cy="-5"/><circle class="v" cx="16.5" cy="-7.7"/><circle class="v" cx="-11.5" cy="16"/><circle class="v" cx="11.5" cy="10"/></g>
<g id="s4u3" transform="translate(464.9 269.5) scale(-1 1)"><path class="r" d="M0.7 -17.7L-11 -3.3"/><path class="o" d="M0.7 -17.7L16.7 -6"/><path class="g" d="M16.7 -6L6.3 10"/><path class="b" d="M6.3 10L-12 15.7"/><path class="p" d="M-12 15.7L-11 -3.3"/><circle class="k"/><circle class="v" cx="0.7" cy="-17.7"/><circle class="v" cx="-11" cy="-3.3"/><circle class="v" cx="16.7" cy="-6"/><circle class="v" cx="-12" cy="15.7"/><circle class="v" cx="6.3" cy="10"/></g>
<g id="s4u4" transform="translate(507.7 255.6) scale(-1 1)"><path class="r" d="M0.6 -17.4L-9.4 -1.4"/><path class="o" d="M0.6 -17.4L14.6 -6"/><path class="g" d="M14.6 -6L4.6 8.3"/><path class="b" d="M4.6 8.3L-12.4 16.6"/><path class="p" d="M-12.4 16.6L-9.4 -1.4"/><circle class="k"/><circle class="v" cx="0.6" cy="-17.4"/><circle class="v" cx="-9.4" cy="-1.4"/><circle class="v" cx="14.6" cy="-6"/><circle class="v" cx="-12.4" cy="16.6"/><circle class="v" cx="4.6" cy="8.3"/></g>
<g id="s4u5" transform="translate(550.2 240.7) scale(-1 1)"><path class="r" d="M1.3 -15L-6.7 -0.6"/><path class="o" d="M1.3 -15L14.7 -5"/><path class="g" d="M14.7 -5L2.7 6.7"/><path class="b" d="M2.7 6.7L-11.7 16.4"/><path class="p" d="M-11.7 16.4L-6.7 -0.6"/><circle class="k"/><circle class="v" cx="1.3" cy="-15"/><circle class="v" cx="-6.7" cy="-0.6"/><circle class="v" cx="14.7" cy="-5"/><circle class="v" cx="-11.7" cy="16.4"/><circle class="v" cx="2.7" cy="6.7"/></g>
<g id="s4u6" transform="translate(593 227) scale(-1 1)"><path class="r" d="M1 -15.7L-5.7 0"/><path class="o" d="M1 -15.7L14 -5.7"/><path class="g" d="M14 -5.7L2 5.3"/><path class="b" d="M2 5.3L-11.7 16"/><path class="p" d="M-11.7 16L-5.7 0"/><circle class="k"/><circle class="v" cx="1" cy="-15.7"/><circle class="v" cx="-5.7" cy="0"/><circle class="v" cx="14" cy="-5.7"/><circle class="v" cx="-11.7" cy="16"/><circle class="v" cx="2" cy="5.3"/></g>
<g id="s4e1" transform="translate(537.9 196.4) scale(-1 1)"><path class="r" d="M0 -16.4L-6.3 0"/><path class="o" d="M0 -16.4L13.4 -5.7"/><path class="g" d="M13.4 -5.7L2.7 8.3"/><path class="b" d="M2.7 8.3L-13 16"/><path class="p" d="M-13 16L-6.3 0"/><circle class="k"/><circle class="v" cx="0" cy="-16.4"/><circle class="v" cx="-6.3" cy="0"/><circle class="v" cx="13.4" cy="-5.7"/><circle class="v" cx="-13" cy="16"/><circle class="v" cx="2.7" cy="8.3"/></g>
<g id="s4e2" transform="translate(494.5 172.7) scale(-1 1)"><path class="r" d="M0 -17.7L-6 -1.7"/><path class="o" d="M0 -17.7L13 -5.7"/><path class="g" d="M13 -5.7L5 10"/><path class="b" d="M5 10L-12 15.3"/><path class="p" d="M-12 15.3L-6 -1.7"/><circle class="k"/><circle class="v" cx="0" cy="-17.7"/><circle class="v" cx="-6" cy="-1.7"/><circle class="v" cx="13" cy="-5.7"/><circle class="v" cx="-12" cy="15.3"/><circle class="v" cx="5" cy="10"/></g>
<g id="s4e3" transform="translate(450.5 140.7) scale(-1 1)"><path class="r" d="M-0.3 -18.6L-5.7 -1.6"/><path class="o" d="M-0.3 -18.6L12.3 -5.3"/><path class="g" d="M12.3 -5.3L6.3 11.4"/><path class="b" d="M6.3 11.4L-11 14.7"/><path class="p" d="M-11 14.7L-5.7 -1.6"/><circle class="k"/><circle class="v" cx="-0.3" cy="-18.6"/><circle class="v" cx="-5.7" cy="-1.6"/><circle class="v" cx="12.3" cy="-5.3"/><circle class="v" cx="-11" cy="14.7"/><circle class="v" cx="6.3" cy="11.4"/></g>
<g id="s4e4" transform="translate(412.3 114.1) scale(-1 1)"><path class="r" d="M-1 -20L-5.7 -3.4"/><path class="o" d="M-1 -20L10 -5.4"/><path class="g" d="M10 -5.4L7.3 12.3"/><path class="b" d="M7.3 12.3L-10.7 14"/><path class="p" d="M-10.7 14L-5.7 -3.4"/><circle class="k"/><circle class="v" cx="-1" cy="-20"/><circle class="v" cx="-5.7" cy="-3.4"/><circle class="v" cx="10" cy="-5.4"/><circle class="v" cx="-10.7" cy="14"/><circle class="v" cx="7.3" cy="12.3"/></g>
<g id="s4e5" transform="translate(369.7 73.4) scale(-1 1)"><path class="r" d="M-1 -20L-6 -2.3"/><path class="o" d="M-1 -20L6.6 -4.3"/><path class="g" d="M6.6 -4.3L7.3 12.4"/><path class="b" d="M7.3 12.4L-10.7 13.4"/><path class="p" d="M-10.7 13.4L-6 -2.3"/><circle class="k"/><circle class="v" cx="-1" cy="-20"/><circle class="v" cx="-6" cy="-2.3"/><circle class="v" cx="6.6" cy="-4.3"/><circle class="v" cx="-10.7" cy="13.4"/><circle class="v" cx="7.3" cy="12.4"/></g>
<g id="s4i1" transform="translate(475.5 214.6) scale(-1 1)"><path class="r" d="M0.6 -16.7L-8.4 -1.7"/><path class="o" d="M0.6 -16.7L14 -5.7"/><path class="g" d="M14 -5.7L5 10.6"/><path class="b" d="M5 10.6L-12.7 16"/><path class="p" d="M-12.7 16L-8.4 -1.7"/><circle class="k"/><circle class="v" cx="0.6" cy="-16.7"/><circle class="v" cx="-8.4" cy="-1.7"/><circle class="v" cx="14" cy="-5.7"/><circle class="v" cx="-12.7" cy="16"/><circle class="v" cx="5" cy="10.6"/></g>
<g id="s4i2" transform="translate(427.4 176.6) scale(-1 1)"><path class="r" d="M0.5 -19.5L-8 -3.2"/><path class="o" d="M0.5 -19.5L12.7 -5.3"/><path class="g" d="M12.7 -5.3L7 12.3"/><path class="b" d="M7 12.3L-9 15"/><path class="p" d="M-9 15L-8 -3.2"/><circle class="k"/><circle class="v" cx="0.5" cy="-19.5"/><circle class="v" cx="-8" cy="-3.2"/><circle class="v" cx="12.7" cy="-5.3"/><circle class="v" cx="-9" cy="15"/><circle class="v" cx="7" cy="12.3"/></g>
<g id="s4i3" transform="translate(436.7 237.7) scale(-1 1)"><path class="r" d="M0.7 -18.4L-10.3 -2"/><path class="o" d="M0.7 -18.4L15.7 -6"/><path class="g" d="M15.7 -6L8 11"/><path class="b" d="M8 11L-11.7 16.6"/><path class="p" d="M-11.7 16.6L-10.3 -2"/><circle class="k"/><circle class="v" cx="0.7" cy="-18.4"/><circle class="v" cx="-10.3" cy="-2"/><circle class="v" cx="15.7" cy="-6"/><circle class="v" cx="-11.7" cy="16.6"/><circle class="v" cx="8" cy="11"/></g>
<g id="s4i4" transform="translate(401.8 211.2) scale(-1 1)"><path class="r" d="M0 -19L-10 -3"/><path class="o" d="M0 -19L14.4 -4.6"/><path class="g" d="M14.4 -4.6L8.4 13.4"/><path class="b" d="M8.4 13.4L-11 16"/><path class="p" d="M-11 16L-10 -3"/><circle class="k"/><circle class="v" cx="0" cy="-19"/><circle class="v" cx="-10" cy="-3"/><circle class="v" cx="14.4" cy="-4.6"/><circle class="v" cx="-11" cy="16"/><circle class="v" cx="8.4" cy="13.4"/></g>
<g id="s4i5" transform="translate(378.6 139.8) scale(-1 1)"><path class="r" d="M0 -20.6L-7.6 -4"/><path class="o" d="M0 -20.6L9.7 -4.3"/><path class="g" d="M9.7 -4.3L9 12.7"/><path class="b" d="M9 12.7L-11 14"/><path class="p" d="M-11 14L-7.6 -4"/><circle class="k"/><circle class="v" cx="0" cy="-20.6"/><circle class="v" cx="-7.6" cy="-4"/><circle class="v" cx="9.7" cy="-4.3"/><circle class="v" cx="-11" cy="14"/><circle class="v" cx="9" cy="12.7"/></g>
<g id="s4i6" transform="translate(366.6 183.7) scale(-1 1)"><path class="r" d="M0 -21.3L-10 -4.6"/><path class="o" d="M0 -21.3L12 -4.6"/><path class="g" d="M12 -4.6L8.7 13.4"/><path class="b" d="M8.7 13.4L-10 14.4"/><path class="p" d="M-10 14.4L-10 -4.6"/><circle class="k"/><circle class="v" cx="0" cy="-21.3"/><circle class="v" cx="-10" cy="-4.6"/><circle class="v" cx="12" cy="-4.6"/><circle class="v" cx="-10" cy="14.4"/><circle class="v" cx="8.7" cy="13.4"/></g>
<g id="s4i7" transform="translate(375.6 250.2) scale(-1 1)"><path class="r" d="M0 -19.3L-13.4 -4.3"/><path class="o" d="M0 -19.3L15 -5.3"/><path class="g" d="M15 -5.3L9.3 14"/><path class="b" d="M9.3 14L-11 16.4"/><path class="p" d="M-11 16.4L-13.4 -4.3"/><circle class="k"/><circle class="v" cx="0" cy="-19.3"/><circle class="v" cx="-13.4" cy="-4.3"/><circle class="v" cx="15" cy="-5.3"/><circle class="v" cx="-11" cy="16.4"/><circle class="v" cx="9.3" cy="14"/></g>
</svg>
